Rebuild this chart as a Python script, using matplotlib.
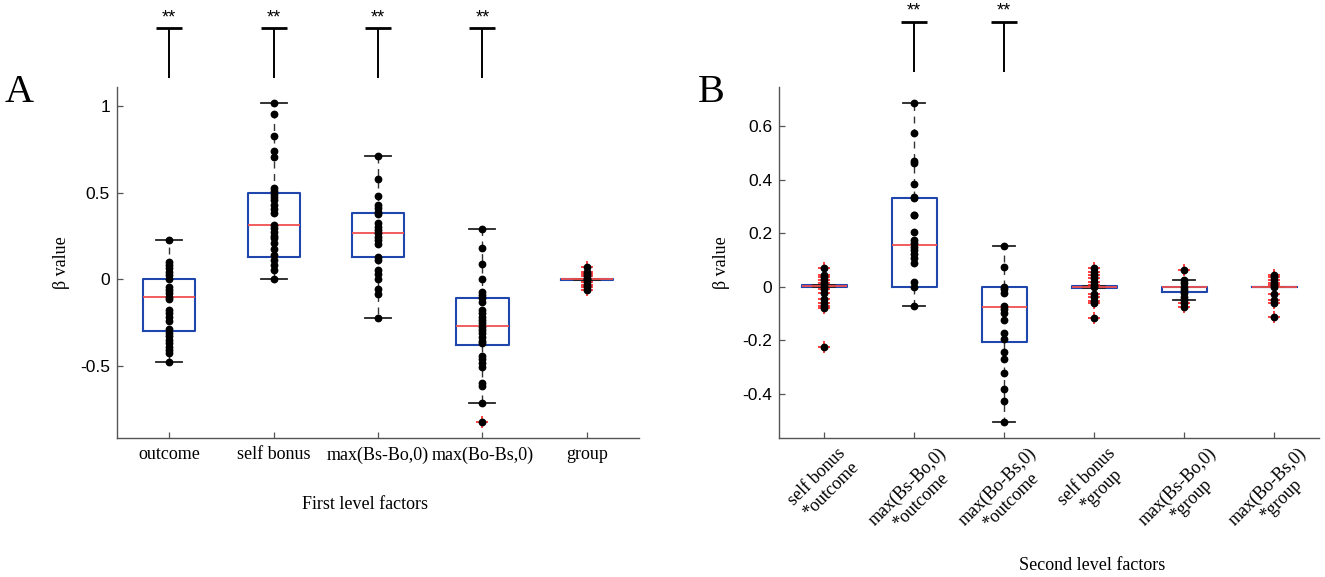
import numpy as np
import matplotlib
matplotlib.use("Agg")
import matplotlib.pyplot as plt
from matplotlib.ticker import FuncFormatter

plt.rcParams['axes.unicode_minus'] = False

SERIF = 'Liberation Serif'
SANS = 'Liberation Sans'

# ---------------- Panel A data ----------------
labels_A = ["outcome", "self bonus", "max(Bs-Bo,0)", "max(Bo-Bs,0)", "group"]
points_A = [
    [0.227, 0.102, 0.083, 0.063, 0.044, 0.025, 0.0, -0.042, -0.062, -0.081, -0.100, -0.115,
     -0.177, -0.196, -0.216, -0.241, -0.289, -0.308, -0.327, -0.350, -0.369, -0.389, -0.408,
     -0.427, -0.475],
    [1.016, 0.952, 0.829, 0.742, 0.704, 0.525, 0.510, 0.492, 0.477, 0.458, 0.429, 0.406, 0.381,
     0.313, 0.294, 0.275, 0.252, 0.237, 0.208, 0.175, 0.140, 0.111, 0.083, 0.054, 0.003],
    [0.711, 0.577, 0.481, 0.429, 0.410, 0.390, 0.377, 0.323, 0.304, 0.284, 0.265, 0.246, 0.227,
     0.204, 0.131, 0.111, 0.054, 0.031, 0.0, -0.058, -0.085, -0.225],
    [0.292, 0.181, 0.090, 0.0, -0.071, -0.091, -0.110, -0.129, -0.177, -0.196, -0.216, -0.235,
     -0.254, -0.273, -0.293, -0.312, -0.331, -0.354, -0.369, -0.443, -0.462, -0.481, -0.504,
     -0.597, -0.616, -0.712, -0.823],
    [0.073, 0.044, 0.031, 0.017, 0.003, 0.0, -0.013, -0.033, -0.046, -0.062],
]
q1_A = [-0.298, 0.131, 0.127, -0.379, -0.002]
med_A = [-0.104, 0.313, 0.269, -0.269, 0.0]
q3_A = [0.0, 0.500, 0.384, -0.110, 0.003]
whislo_A = [-0.475, 0.003, -0.225, -0.712, -0.002]
whishi_A = [0.227, 1.016, 0.711, 0.292, 0.003]
sig_A = ["**", "**", "**", "**", ""]
yticks_A = [-0.5, 0, 0.5, 1]
ylim_A = (-0.916, 1.108)

# ---------------- Panel B data ----------------
labels_B = ["self bonus\n*outcome", "max(Bs-Bo,0)\n*outcome", "max(Bo-Bs,0)\n*outcome",
            "self bonus\n*group", "max(Bs-Bo,0)\n*group", "max(Bo-Bs,0)\n*group"]
points_B = [
    [0.069, 0.044, 0.035, 0.025, 0.015, 0.003, -0.010, -0.022, -0.047, -0.060, -0.072, -0.081,
     -0.224],
    [0.684, 0.572, 0.470, 0.460, 0.383, 0.336, 0.330, 0.268, 0.266, 0.205, 0.174, 0.162, 0.149,
     0.137, 0.122, 0.106, 0.087, 0.019, 0.0, -0.071],
    [0.152, 0.072, 0.0, -0.010, -0.025, -0.072, -0.084, -0.097, -0.124, -0.172, -0.193, -0.242,
     -0.271, -0.323, -0.382, -0.425, -0.504],
    [0.069, 0.056, 0.044, 0.031, 0.019, 0.006, 0.0, -0.027, -0.040, -0.052, -0.062, -0.118],
    [0.062, 0.027, 0.013, 0.0, -0.012, -0.025, -0.037, -0.050, -0.060, -0.077],
    [0.044, 0.035, 0.025, 0.015, 0.006, 0.0, -0.027, -0.050, -0.060, -0.112],
]
q1_B = [-0.002, 0.0, -0.206, -0.003, -0.021, 0.0]
med_B = [0.002, 0.154, -0.076, 0.0, 0.0, 0.0]
q3_B = [0.006, 0.332, 0.0, 0.004, 0.0, 0.0]
whislo_B = [-0.002, -0.071, -0.504, -0.003, -0.050, 0.0]
whishi_B = [0.006, 0.684, 0.152, 0.004, 0.027, 0.0]
sig_B = ["", "**", "**", "", "", ""]
yticks_B = [-0.4, -0.2, 0, 0.2, 0.4, 0.6]
ylim_B = (-0.563, 0.744)

BOX_C = '#1f46ad'
MED_C = '#f05050'
AX_C = '#555555'


def draw_panel(ax, labels, points, q1, med, q3, wlo, whi, sig, yticks, ylim,
               rot, sig_bar, sig_stem, sig_txt):
    n = len(labels)
    pos = np.arange(1, n + 1)
    stats = []
    for i in range(n):
        pts = np.array(points[i])
        fl = pts[(pts > whi[i] + 1e-9) | (pts < wlo[i] - 1e-9)]
        stats.append(dict(med=med[i], q1=q1[i], q3=q3[i], whislo=wlo[i], whishi=whi[i],
                          fliers=fl))
    ax.bxp(stats, positions=pos, widths=0.5, manage_ticks=False,
           boxprops=dict(color=BOX_C, linewidth=1.5),
           medianprops=dict(color=MED_C, linewidth=1.3),
           whiskerprops=dict(color='#333333', linewidth=1.0, linestyle=(0, (5, 4))),
           capprops=dict(color='#222222', linewidth=1.3),
           flierprops=dict(marker='+', markeredgecolor='#ff2020', markersize=8.5,
                           markeredgewidth=1.2, linestyle='none'))
    for i in range(n):
        ax.plot(np.full(len(points[i]), pos[i]), points[i], 'o', color='black',
                markersize=4.6, zorder=6)
    ax.set_xlim(0.5, n + 0.5)
    ax.set_ylim(*ylim)
    ax.set_yticks(yticks)
    ax.yaxis.set_major_formatter(FuncFormatter(lambda v, p: '%g' % round(v, 3)))
    ax.set_xticks(pos)
    if rot:
        ax.set_xticklabels(labels, rotation=45, ha='center', va='top',
                           multialignment='center', family=SERIF, fontsize=13,
                           linespacing=1.15)
    else:
        ax.set_xticklabels(labels, family=SERIF, fontsize=13)
    for lab in ax.get_yticklabels():
        lab.set_family(SANS)
        lab.set_fontsize(12.5)
    ax.tick_params(direction='in', length=4, width=0.9, color=AX_C)
    ax.tick_params(axis='x', pad=6 if not rot else 5)
    ax.tick_params(axis='y', pad=5)
    for s in ['top', 'right']:
        ax.spines[s].set_visible(False)
    for s in ['left', 'bottom']:
        ax.spines[s].set_color(AX_C)
        ax.spines[s].set_linewidth(1.0)
    ax.set_ylabel('β value', family=SERIF, fontsize=13)
    ax.yaxis.set_label_coords(-0.09, 0.5)
    # significance markers above the axes
    tr = ax.get_xaxis_transform()
    for i in range(n):
        if sig[i]:
            ax.plot([pos[i], pos[i]], [sig_stem, sig_bar], color='black', linewidth=1.4,
                    transform=tr, clip_on=False, solid_capstyle='butt')
            ax.plot([pos[i]], [sig_bar], marker='_', markersize=19, markeredgewidth=2.0,
                    color='black', transform=tr, clip_on=False)
            ax.text(pos[i], sig_txt, sig[i], transform=tr, ha='center', va='center',
                    family=SANS, fontsize=13, clip_on=False)


fig = plt.figure(figsize=(13.25, 5.77), dpi=100)
axA = fig.add_axes([117 / 1325, 1 - 438 / 577, 522 / 1325, 350.7 / 577])
axB = fig.add_axes([779 / 1325, 1 - 437.7 / 577, 540 / 1325, 350.4 / 577])

draw_panel(axA, labels_A, points_A, q1_A, med_A, q3_A, whislo_A, whishi_A, sig_A,
           yticks_A, ylim_A, False, 1.168, 1.026, 1.198)
draw_panel(axB, labels_B, points_B, q1_B, med_B, q3_B, whislo_B, whishi_B, sig_B,
           yticks_B, ylim_B, True, 1.187, 1.045, 1.217)

axA.set_xlabel('First level factors', family=SERIF, fontsize=13)
axA.xaxis.set_label_coords(0.475, -0.165)
axB.set_xlabel('Second level factors', family=SERIF, fontsize=13)
axB.xaxis.set_label_coords(0.58, -0.34)

fig.text(19.5 / 1325, 1 - 93 / 577, 'A', family=SERIF, fontsize=29, ha='center', va='center')
fig.text(711 / 1325, 1 - 93 / 577, 'B', family=SERIF, fontsize=29, ha='center', va='center')

fig.savefig('out.png', dpi=100)
